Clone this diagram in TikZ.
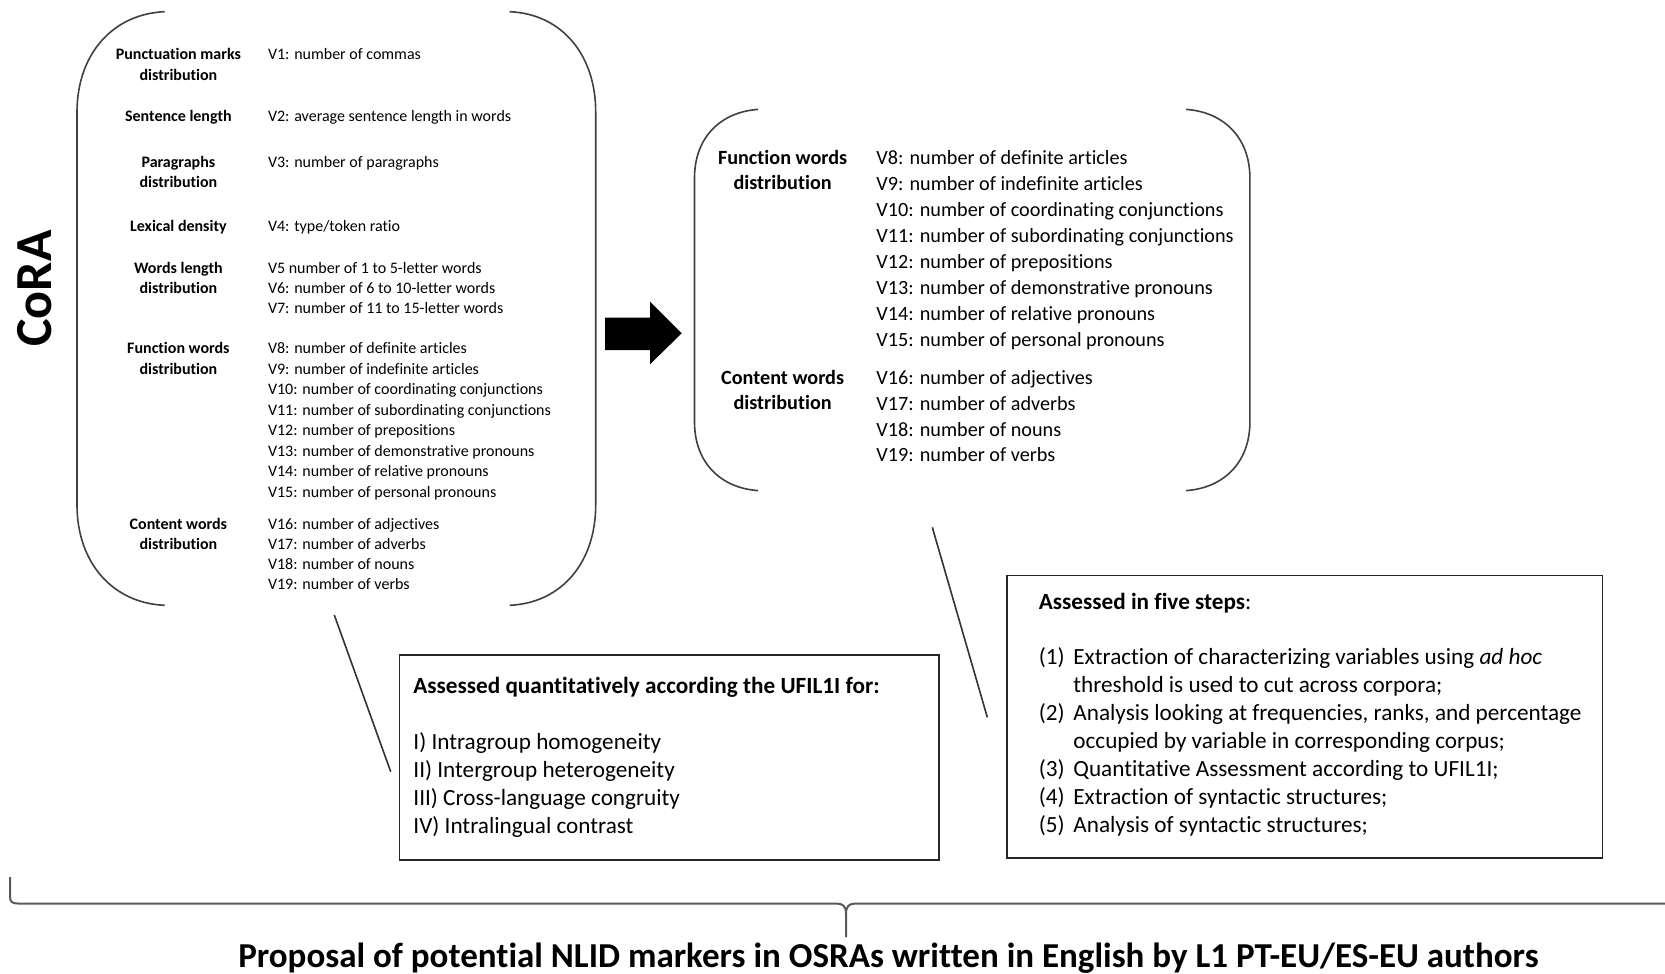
\documentclass[tikz,border=0pt]{standalone}
\usepackage{fontspec}
\setmainfont{Carlito}[Ligatures=NoCommon]
\usetikzlibrary{positioning}

\tikzset{
  paren/.style={draw=black!75, line width=0.8pt},
  boxline/.style={draw=black!85, line width=0.8pt},
  leftlab/.style={font=\fontsize{8}{10}\selectfont\bfseries, anchor=mid, inner sep=0pt, yshift=-1pt},
  leftval/.style={font=\fontsize{8}{10}\selectfont, anchor=mid west, inner sep=0pt, yshift=-1pt},
  rightlab/.style={font=\fontsize{10.1}{12}\selectfont\bfseries, anchor=mid, inner sep=0pt, yshift=-1.3pt},
  rightval/.style={font=\fontsize{10.1}{12}\selectfont, anchor=mid west, inner sep=0pt, yshift=-1.3pt},
  boxtext/.style={font=\fontsize{11.6}{14}\selectfont, anchor=mid west, inner sep=0pt, yshift=-1.4pt},
}

\def\funcwords{definite articles, indefinite articles, coordinating conjunctions,
  subordinating conjunctions, prepositions, demonstrative pronouns,
  relative pronouns, personal pronouns}
\def\contwords{adjectives, adverbs, nouns, verbs}

\begin{document}
\begin{tikzpicture}[x=0.5pt, y=-0.5pt]
  \useasboundingbox (0,0) rectangle (1665,974);

  % CoRA
  \node[font=\fontsize{26}{30}\selectfont\bfseries, rotate=90, inner sep=0pt] (cora) at (35,288.5) {CoRA};

  % big bracket with all variables
  \draw[paren] (164.6,11.7) .. controls (112,14) and (77,55) .. (77,112)
    -- (77,505) .. controls (77,562) and (112,603) .. (164.6,605.3);
  \draw[paren] (509.7,11.7) .. controls (562,14) and (595.7,55) .. (595.7,112)
    -- (595.7,505) .. controls (595.7,562) and (562,603) .. (509.7,605.3);

  \foreach \y/\txt [count=\i] in {53.1/Punctuation marks, 73.3/distribution,
      114.7/Sentence length, 160.3/Paragraphs, 180.5/distribution,
      225.1/Lexical density, 266.5/Words length, 286.7/distribution,
      347.2/Function words, 367.4/distribution, 522.5/Content words, 542.6/distribution} {
    \node[leftlab] (llab\i) at (178.4,\y) {\txt};
  }
  \foreach \y/\txt [count=\i] in {53.1/V1: number of commas,
      114.7/V2: average sentence length in words, 160.3/V3: number of paragraphs,
      225.1/{V4: type/token ratio}, 266.5/V5 number of 1 to 5-letter words,
      286.7/V6: number of 6 to 10-letter words, 306.9/V7: number of 11 to 15-letter words} {
    \node[leftval] (lval\i) at (267.6,\y) {\txt};
  }
  \foreach \txt [count=\i from 8] in \funcwords {
    \node[leftval] (lval\i) at (267.6,{347.2+(\i-8)*20.49}) {V\i: number of \txt};
  }
  \foreach \txt [count=\i from 16] in \contwords {
    \node[leftval] (lval\i) at (267.6,{522.5+(\i-16)*20.17}) {V\i: number of \txt};
  }

  % arrow
  \fill[black] (605,317.7) -- (650,317.7) -- (650,301.7) -- (681.7,333.3)
    -- (650,364.3) -- (650,350) -- (605,350) -- cycle;

  % small bracket with the word classes
  \draw[paren] (758.2,109.4) .. controls (720,112) and (694.5,138) .. (694.5,178)
    -- (694.5,422) .. controls (694.5,462) and (720,488) .. (758.2,490.6);
  \draw[paren] (1186.1,109.4) .. controls (1224,112) and (1249.9,138) .. (1249.9,178)
    -- (1249.9,422) .. controls (1249.9,462) and (1224,488) .. (1186.1,490.6);

  \foreach \y/\txt [count=\i] in {157.2/Function words, 182.6/distribution,
      377/Content words, 402.5/distribution} {
    \node[rightlab] (rlab\i) at (782.6,\y) {\txt};
  }
  \foreach \txt [count=\i from 8] in \funcwords {
    \node[rightval] (rval\i) at (876,{157.2+(\i-8)*25.94}) {V\i: number of \txt};
  }
  \foreach \txt [count=\i from 16] in \contwords {
    \node[rightval] (rval\i) at (876,{377+(\i-16)*25.83}) {V\i: number of \txt};
  }

  % quantitative box
  \draw[boxline] (399.3,655.2) rectangle (938.7,860);
  \node[boxtext] (qhead) at (413,686) {\textbf{Assessed quantitatively according the UFIL1I for:}};
  \foreach \y/\txt [count=\i] in {741.5/I) Intragroup homogeneity, 770.2/II) Intergroup heterogeneity,
      797.9/III) Cross-language congruity, 825.5/IV) Intralingual contrast} {
    \node[boxtext] (q\i) at (413,\y) {\txt};
  }

  % five steps box
  \draw[boxline] (1006.8,575.3) rectangle (1602.4,858);
  \node[boxtext] (shead) at (1038.5,602) {\textbf{Assessed in five steps}:};
  \foreach \y/\n [count=\i] in {656.5/1, 713/2, 768.5/3, 796.8/4, 825.3/5} {
    \node[boxtext] (n\i) at (1038.5,\y) {(\n)};
  }
  \node[boxtext] (s1a) at (1073,656.5) {Extraction of characterizing variables using \textit{ad hoc}};
  \node[boxtext] (s1b) at (1073,685.3) {threshold is used to cut across corpora;};
  \node[boxtext] (s2a) at (1073,713) {Analysis looking at frequencies, ranks, and percentage};
  \node[boxtext] (s2b) at (1073,740.8) {occupied by variable in corresponding corpus;};
  \node[boxtext] (s3) at (1073,768.5) {Quantitative Assessment according to UFIL1I;};
  \node[boxtext] (s4) at (1073,796.8) {Extraction of syntactic structures;};
  \node[boxtext] (s5) at (1073,825.3) {Analysis of syntactic structures;};

  % callout lines
  \coordinate (c1a) at (334.3,615);
  \coordinate (c1b) at (390.7,771.7);
  \coordinate (c2a) at (932.3,527.3);
  \coordinate (c2b) at (987.3,717.3);
  \draw[black!80, line width=0.8pt] (c1a) -- (c1b);
  \draw[black!80, line width=0.8pt] (c2a) -- (c2b);

  % brace and conclusion
  \coordinate (bl) at (10,877);
  \coordinate (bm) at (846,937);
  \coordinate (br) at (1665,903.5);
  \draw[black!65, line width=1pt] (bl) -- (10,896) .. controls (10,902) and (12,903.5) .. (18,903.5)
    -- (836,903.5) .. controls (843,903.5) and (846,906) .. (846,914) -- (bm);
  \draw[black!65, line width=1pt] (846,914) .. controls (846,906) and (849,903.5) .. (856,903.5) -- (br);
  \node[font=\fontsize{17.5}{20}\selectfont\bfseries, inner sep=0pt] (title) at (888.3,958.5)
    {Proposal of potential NLID markers in OSRAs written in English by L1 PT-EU/ES-EU authors};
\end{tikzpicture}
\end{document}
